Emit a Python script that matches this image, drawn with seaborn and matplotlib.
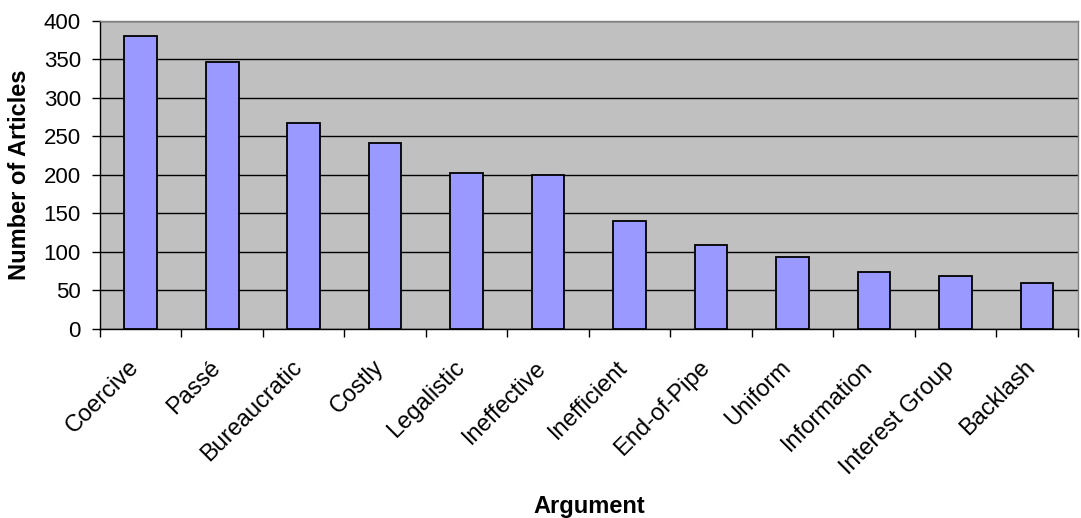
import matplotlib
matplotlib.use("Agg")
import matplotlib.pyplot as plt
import matplotlib.transforms as mtransforms
import seaborn as sns
import pandas as pd
from matplotlib.ticker import FixedLocator, MultipleLocator

arguments = ["Coercive", "Passé", "Bureaucratic", "Costly", "Legalistic", "Ineffective",
             "Inefficient", "End-of-Pipe", "Uniform", "Information", "Interest Group", "Backlash"]
article_counts = [380, 347, 267, 241, 202, 200, 140, 109, 94, 74, 69, 60]

sns.set_style("white")
plt.rcParams["font.family"] = ["Liberation Sans", "DejaVu Sans"]
plt.rcParams.update({"text.color": "black", "axes.labelcolor": "black",
                     "xtick.color": "black", "ytick.color": "black"})

fig = plt.figure(figsize=(10.81, 5.18), dpi=100)
ax = fig.add_axes([0.0925, 0.365, 0.9045, 0.5945])
ax.set_facecolor("#C0C0C0")

df = pd.DataFrame({"Argument": arguments, "Articles": article_counts})
sns.barplot(data=df, x="Argument", y="Articles", color="#9999FF", saturation=1,
            width=0.4, edgecolor="black", linewidth=1.3, ax=ax, zorder=3)

ax.set_axisbelow(True)
ax.yaxis.grid(True, color="black", linewidth=1.0, zorder=0)
ax.xaxis.grid(False)

ax.set_ylim(0, 400)
ax.yaxis.set_major_locator(MultipleLocator(50))
ax.set_xlim(-0.5, len(arguments) - 0.5)

# category separators as outward ticks on the x axis
ax.xaxis.set_minor_locator(FixedLocator([i - 0.5 for i in range(len(arguments) + 1)]))
ax.tick_params(axis="x", which="major", length=0, pad=11)
ax.tick_params(axis="x", which="minor", length=5.8, width=1, color="black", direction="out", bottom=True)
ax.tick_params(axis="y", which="major", length=5.8, width=1, color="black", direction="out",
               left=True, labelsize=16, pad=8)

ax.set_xticks(range(len(arguments)))
ax.set_xticklabels(arguments, rotation=45, ha="right", va="center", rotation_mode="anchor", fontsize=17)

# nudge the slanted category names down and slightly left of their bars
shift = mtransforms.ScaledTranslation(-5 / 100, -20 / 100, fig.dpi_scale_trans)
for lbl in ax.get_xticklabels():
    lbl.set_transform(lbl.get_transform() + shift)

for side in ["left", "bottom"]:
    ax.spines[side].set_color("black")
    ax.spines[side].set_linewidth(1.0)
for side in ["top", "right"]:
    ax.spines[side].set_color("#808080")
    ax.spines[side].set_linewidth(1.0)

ax.set_xlabel("Argument", fontsize=17, fontweight="bold", va="top")
ax.set_ylabel("Number of Articles", fontsize=17, fontweight="bold")
ax.xaxis.set_label_coords(0.5, -0.539)
ax.yaxis.set_label_coords(-0.071, 0.5)

fig.savefig("out.png", dpi=100, facecolor="white")
